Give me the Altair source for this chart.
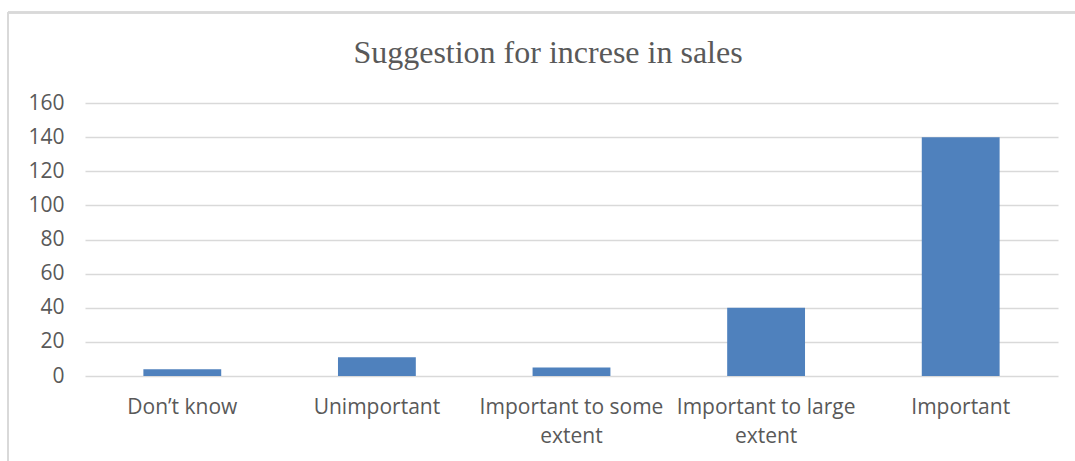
import altair as alt
import pandas as pd

title_text = "Suggestion for increse in sales"
categories = ["Don’t know", "Unimportant", "Important to some extent",
              "Important to large extent", "Important"]
values = [4, 11, 5, 40, 140]
label_lines = {
    "Important to some extent": ["Important to some", "extent"],
    "Important to large extent": ["Important to large", "extent"],
}
y_ticks = [0, 20, 40, 60, 80, 100, 120, 140, 160]

df = pd.DataFrame({"category": categories, "value": values})

expr = "datum.label"
for k, v in label_lines.items():
    expr = f"datum.label == '{k}' ? ['{v[0]}', '{v[1]}'] : (" + expr + ")"

W, H = 973, 273
PL, PT = 85, 103

bars = alt.Chart(df).mark_bar(color="#4f81bd").encode(
    x=alt.X("category:N", sort=categories, title=None,
            scale=alt.Scale(paddingInner=0.6, paddingOuter=0.3),
            axis=alt.Axis(labelAngle=0, labelExpr=expr, labelFont="Open Sans",
                          labelFontSize=21, labelColor="#595959", labelPadding=20,
                          labelLineHeight=29, labelLimit=400, ticks=False, domain=False,
                          grid=False, labelBaseline="top")),
    y=alt.Y("value:Q", title=None,
            scale=alt.Scale(domain=[0, 160], nice=False),
            axis=alt.Axis(values=y_ticks, labelFont="Open Sans", labelFontSize=21,
                          labelColor="#595959", labelPadding=21, ticks=False,
                          domain=False, gridColor="#d9d9d9", gridWidth=1.5)),
)

border_top = alt.Chart(df).mark_rule(color="#d9d9d9", strokeWidth=2).encode(
    x=alt.value(8 - PL), x2=alt.value(1075 - PL), y=alt.value(12.5 - PT))
border_left = alt.Chart(df).mark_rule(color="#d9d9d9", strokeWidth=2).encode(
    x=alt.value(8 - PL), y=alt.value(12.5 - PT), y2=alt.value(461 - PT))

title = alt.Chart(pd.DataFrame({"t": [title_text]})).mark_text(
    font="Liberation Serif", fontSize=32, color="#595959",
    align="center", baseline="middle").encode(
    text="t:N", x=alt.value(548 - PL), y=alt.value(53 - PT))

chart = alt.layer(border_top, border_left, bars, title).properties(
    width=W, height=H,
    autosize=alt.AutoSizeParams(type="none"),
    padding={"left": PL, "top": PT, "right": 1075 - PL - W, "bottom": 461 - PT - H},
    background="white",
).configure_view(strokeWidth=0)

chart.save("out.html", embed_options={"renderer": "svg", "actions": False})
